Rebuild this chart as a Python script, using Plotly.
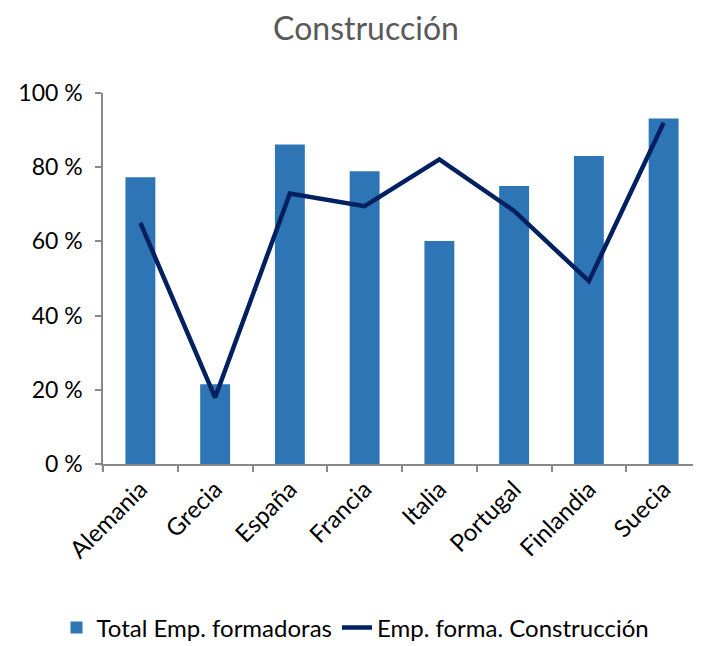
import plotly.graph_objects as go

paises = ["Alemania", "Grecia", "España", "Francia", "Italia", "Portugal", "Finlandia", "Suecia"]
total_emp = [77.3, 21.5, 86.1, 78.9, 60.1, 74.9, 83.0, 93.1]
construccion = [65.0, 17.9, 72.9, 69.5, 82.1, 68.2, 49.3, 92.0]
y_ticks = [0, 20, 40, 60, 80, 100]
y_labels = [f"{v} %" for v in y_ticks]

FONT = "Lato, 'Open Sans', sans-serif"
W, H = 693, 638

fig = go.Figure()
fig.add_trace(go.Bar(x=paises, y=total_emp, name="Total Emp. formadoras",
                     marker=dict(color="#2E75B6", line=dict(width=0))))
fig.add_trace(go.Scatter(x=paises, y=construccion, name="Emp. forma. Construcción",
                         mode="lines", line=dict(color="#002060", width=4.5)))

fig.update_layout(
    width=W, height=H,
    paper_bgcolor="white", plot_bgcolor="white",
    margin=dict(l=95, r=0, t=85, b=182),
    bargap=0.6,
    title=dict(text="Construcción", x=358 / W, xref="container", xanchor="center",
               y=(H - 21) / H, yref="container", yanchor="middle",
               font=dict(family=FONT, size=32, color="#595959")),
    font=dict(family=FONT, size=23, color="#000000"),
    showlegend=True,
    legend=dict(orientation="h", x=0.07, xref="container", xanchor="left",
                y=(H - 620) / H, yref="container", yanchor="middle",
                font=dict(family=FONT, size=24, color="#000000"),
                itemwidth=30, traceorder="normal"),
    xaxis=dict(showline=True, linecolor="#898989", linewidth=1.5,
               ticks="outside", tickcolor="#898989", ticklen=6, tickwidth=1.5,
               tickson="boundaries", tickangle=-45, showgrid=False,
               tickfont=dict(family=FONT, size=24, color="#000000")),
    yaxis=dict(range=[0, 100], tickvals=y_ticks, ticktext=y_labels,
               showline=True, linecolor="#898989", linewidth=1.5,
               ticks="outside", tickcolor="#898989", ticklen=6, tickwidth=1.5,
               ticklabelstandoff=8,
               showgrid=False, zeroline=False,
               tickfont=dict(family=FONT, size=23, color="#000000")),
)

fig.write_html("out.html")
